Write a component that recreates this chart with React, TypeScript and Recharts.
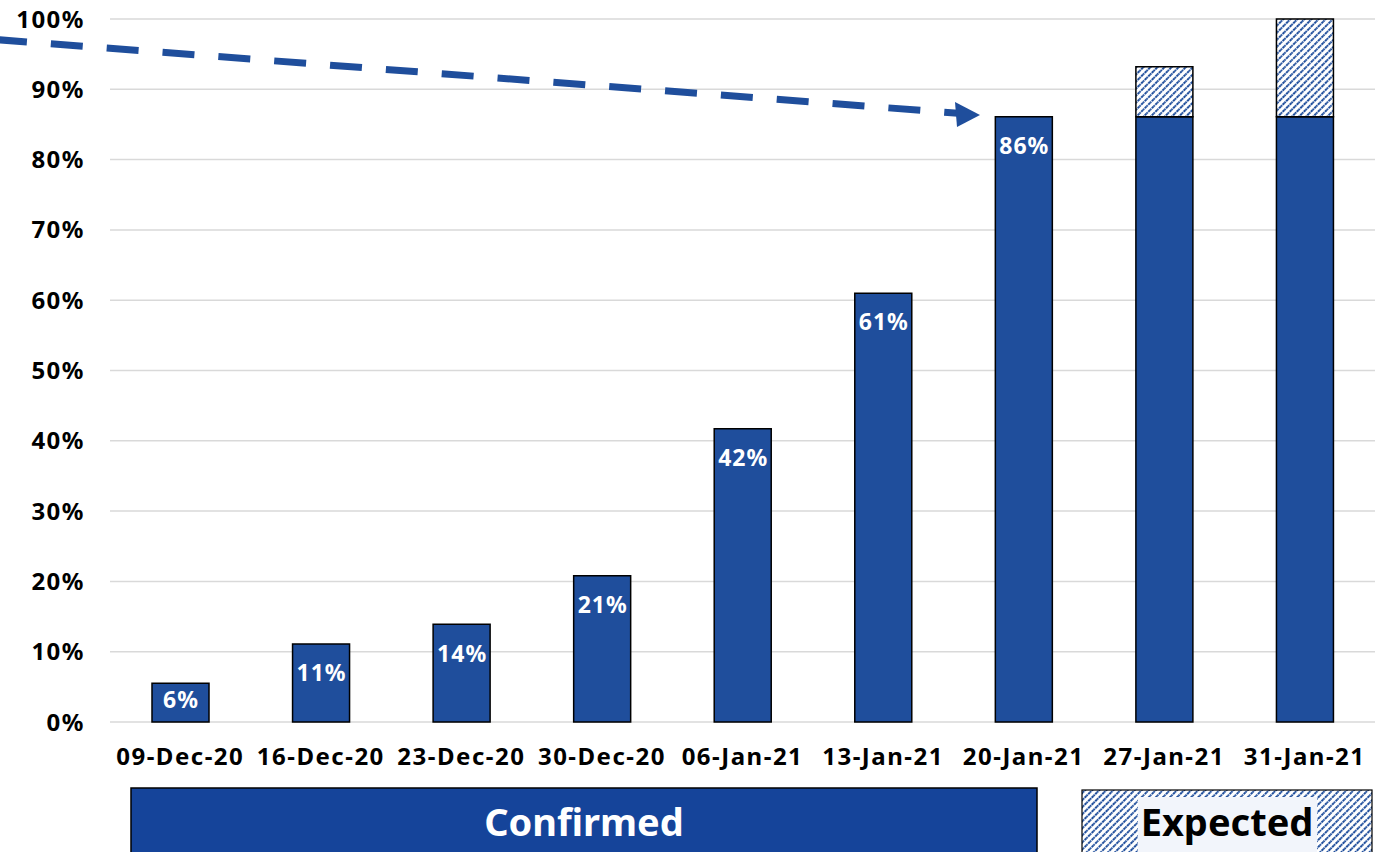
import { Bar, BarChart, CartesianGrid, LabelList, XAxis, YAxis } from 'recharts';

const weeks = ['09-Dec-20', '16-Dec-20', '23-Dec-20', '30-Dec-20', '06-Jan-21', '13-Jan-21', '20-Jan-21', '27-Jan-21', '31-Jan-21'];
const confirmed = [5.5, 11.1, 13.9, 20.8, 41.7, 61.0, 86.1, 86.1, 86.1];
const expected = [0, 0, 0, 0, 0, 0, 0, 7.1, 13.9];
const labels = ['6%', '11%', '14%', '21%', '42%', '61%', '86%', '', ''];
const yTicks = [0, 10, 20, 30, 40, 50, 60, 70, 80, 90, 100];

const data = weeks.map((week, i) => ({
  week,
  confirmed: confirmed[i],
  expected: expected[i],
  label: labels[i]
}));

const BLUE = '#1f4e9c';
const BOX_BLUE = '#15449a';
const FONT = '"Noto Sans", "Open Sans", sans-serif';

function BarLabel(props: any) {
  const { x, y, width, height, value } = props;
  if (!value) return null;
  const cy = Math.min(y + 29, y + height / 2 - 3);
  return (
    <text
      x={x + width / 2 + 0.5}
      y={cy}
      dy="0.36em"
      textAnchor="middle"
      fill="#ffffff"
      fontSize={23}
      fontWeight={700}
      letterSpacing={1}
      fontFamily={FONT}
    >
      {value}
    </text>
  );
}

function Hatch({ id }: { id: string }) {
  return (
    <pattern id={id} width="5" height="5" patternUnits="userSpaceOnUse" patternTransform="rotate(45)">
      <rect width="5" height="5" fill="#ffffff" />
      <line x1="1" y1="0" x2="1" y2="5" stroke={BLUE} strokeWidth={2} strokeDasharray="2 0.8" />
    </pattern>
  );
}

function Overlay() {
  return (
    <svg
      width={1384}
      height={852}
      style={{ position: 'absolute', left: 0, top: 0, pointerEvents: 'none' }}
    >
      <defs>
        <Hatch id="boxHatch" />
      </defs>
      {/* trend arrow */}
      <line x1={-5} y1={39.5} x2={958} y2={113.2} stroke={BLUE} strokeWidth={7} strokeDasharray="32 24" />
      <polygon points="980,115 955,102 957,127" fill={BLUE} />
      {/* confirmed / expected boxes */}
      <rect x={131} y={788} width={906} height={70} fill={BOX_BLUE} stroke="#000" strokeWidth={1.5} />
      <text x={584} y={836} textAnchor="middle" fill="#fff" fontSize={38} fontWeight={700} fontFamily={FONT}>
        Confirmed
      </text>
      <rect x={1082} y={790} width={290} height={68} fill="url(#boxHatch)" stroke="#000" strokeWidth={1.2} />
      <rect x={1138} y={797} width={179} height={55} fill="#f2f5fb" />
      <text x={1227} y={836} textAnchor="middle" fill="#000" fontSize={38} fontWeight={700} fontFamily={FONT}>
        Expected
      </text>
    </svg>
  );
}

export default function App() {
  const tickStyle = { fill: '#000', fontSize: 24, fontWeight: 700, fontFamily: FONT, letterSpacing: 1.5 };
  return (
    <div style={{ position: 'absolute', left: 0, top: 0, width: 1384, height: 852, background: '#fff', overflow: 'hidden' }}>
      <BarChart
        width={1384}
        height={852}
        data={data}
        margin={{ top: 19, right: 9, left: 0, bottom: 80 }}
        barSize={57}
      >
        <defs>
          <Hatch id="barHatch" />
        </defs>
        <CartesianGrid vertical={false} stroke="#d9d9d9" strokeWidth={1.5} />
        <XAxis
          dataKey="week"
          axisLine={false}
          tickLine={false}
          tickSize={0}
          tickMargin={26}
          height={50}
          interval={0}
          tick={tickStyle}
        />
        <YAxis
          domain={[0, 100]}
          ticks={yTicks}
          tickFormatter={(v) => `${v}%`}
          axisLine={false}
          tickLine={false}
          tickSize={0}
          tickMargin={25}
          width={110}
          tick={tickStyle}
        />
        <Bar dataKey="confirmed" stackId="a" fill={BLUE} stroke="#000" strokeWidth={1.5} isAnimationActive={false}>
          <LabelList dataKey="label" content={BarLabel} />
        </Bar>
        <Bar dataKey="expected" stackId="a" fill="url(#barHatch)" stroke="#000" strokeWidth={1.5} isAnimationActive={false} />
      </BarChart>
      <Overlay />
    </div>
  );
}
